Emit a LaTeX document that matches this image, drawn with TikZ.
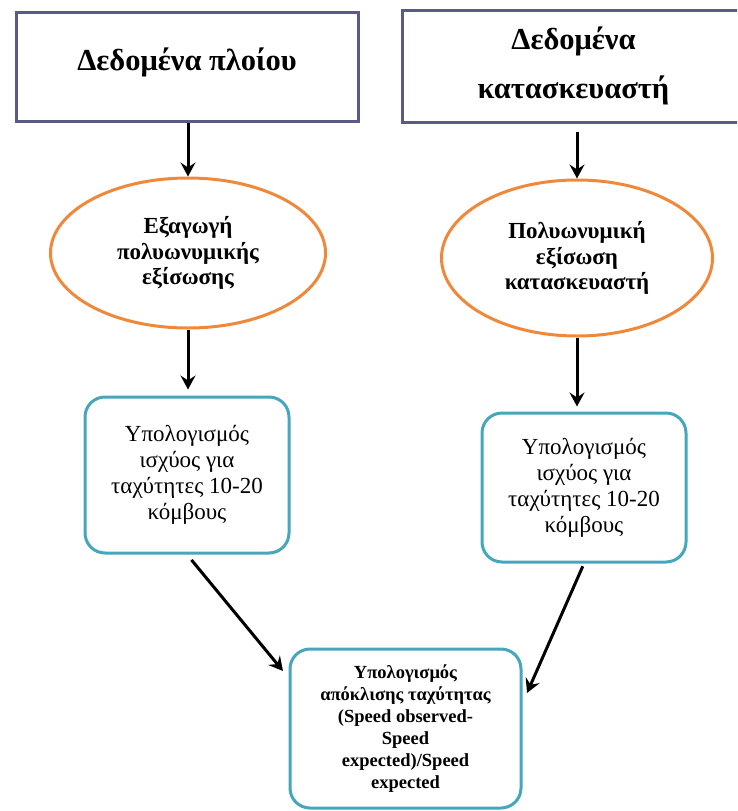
\documentclass[tikz,border=0pt]{standalone}
\usepackage{fontspec}
\setmainfont{Liberation Serif}
\usetikzlibrary{shapes.geometric,arrows.meta}
\definecolor{boxpurple}{HTML}{5A5A86}
\definecolor{ellorange}{HTML}{F0883A}
\definecolor{rteal}{HTML}{45A6BC}
\tikzset{
  titlebox/.style={draw=boxpurple,line width=3pt,rectangle,inner sep=0pt,align=center,
    font=\fontsize{30.5}{49}\selectfont\bfseries},
  ellbox/.style={draw=ellorange,line width=3pt,ellipse,inner sep=0pt,align=center,
    font=\fontsize{23}{25.5}\selectfont\bfseries},
  calcbox/.style={draw=rteal,line width=3pt,rectangle,rounded corners=20pt,inner sep=0pt,align=center,
    font=\fontsize{23}{26}\selectfont},
  resbox/.style={draw=rteal,line width=3pt,rectangle,rounded corners=20pt,inner sep=0pt,align=center,
    font=\fontsize{18.5}{22}\selectfont\bfseries},
  arr/.style={draw=black,line width=3pt,-{Stealth[length=14pt,width=15pt,inset=5pt]}}
}
\begin{document}
\begin{tikzpicture}[x=1pt,y=-1pt]
\useasboundingbox (0,0) rectangle (737,811);
\fill[white] (0,0) rectangle (737,811);
\begin{scope}
\clip (0,0) rectangle (737,811);
% top boxes
\node[titlebox,minimum width=342pt,minimum height=109pt] (b1) at (187,66.5) {\raisebox{14pt}{Δεδομένα πλοίου}};
\node[titlebox,minimum width=343pt,minimum height=112pt] (b2) at (573.5,66) {Δεδομένα\\κατασκευαστή};
% ellipses
\node[ellbox,minimum width=275pt,minimum height=150pt] (e1) at (188,253) {Εξαγωγή\\πολυωνυμικής\\εξίσωσης};
\node[ellbox,minimum width=271pt,minimum height=156pt] (e2) at (577,258) {Πολυωνυμική\\εξίσωση\\κατασκευαστή};
% calc boxes
\node[calcbox,minimum width=204pt,minimum height=156pt] (b3) at (187,475) {Υπολογισμός\\ισχύος για\\ταχύτητες 10-20\\κόμβους};
\node[calcbox,minimum width=204pt,minimum height=149pt] (b4) at (584,487.5) {Υπολογισμός\\ισχύος για\\ταχύτητες 10-20\\κόμβους};
% result box
\node[resbox,minimum width=231pt,minimum height=159pt] (b5) at (405.5,728.5) {Υπολογισμός\\απόκλισης ταχύτητας\\(Speed observed-\\Speed\\expected)/Speed\\expected};
\end{scope}
% arrow end points
\coordinate (t3) at (283,671);
\coordinate (t4) at (527,693);
% connectors
\draw[arr] (b1.south -| e1.north) -- (e1.north);
\draw[arr,shorten <=8pt] (b2.south -| e2.north) -- (e2.north);
\draw[arr,shorten >=6pt] (e1.south) -- (b3.north -| e1.south);
\draw[arr,shorten >=5pt] (e2.south) -- (b4.north -| e2.south);
\draw[arr,shorten <=7pt] (b3.south) -- (t3);
\draw[arr,shorten <=3pt] (b4.south) -- (t4);
\end{tikzpicture}
\end{document}
